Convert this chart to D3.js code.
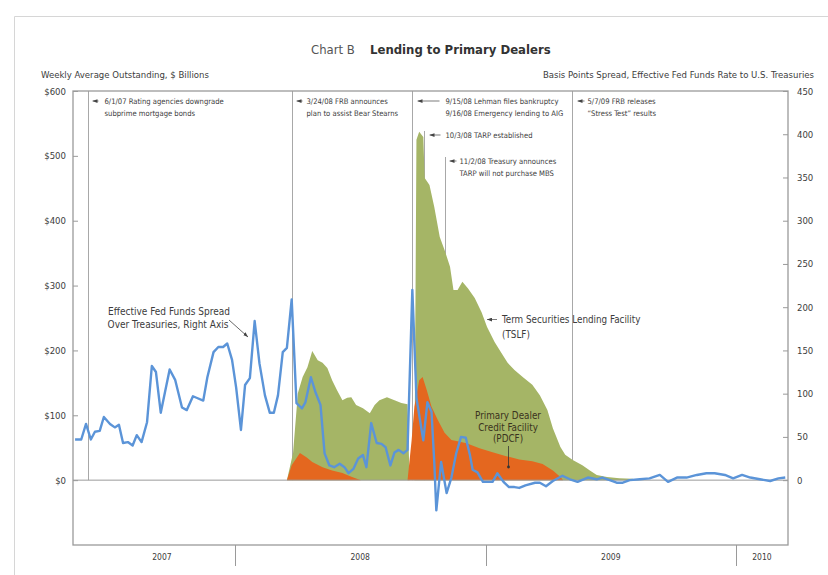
<!DOCTYPE html>
<html>
<head>
<meta charset="utf-8">
<script src="https://cdn.jsdelivr.net/npm/d3@7"></script>
<style>
  body { margin: 0; background: #fff; }
  svg { font-family: "Liberation Sans Narrow", "Arial Narrow", "DejaVu Sans Condensed", sans-serif; }
</style>
</head>
<body>
<div id="chart"></div>
<script>
// values
var spreadData = [
  ["2007-05-13",47],["2007-05-22",47],["2007-05-29",65],["2007-06-05",47],["2007-06-11",56],["2007-06-18",57],
  ["2007-06-24",73],["2007-07-03",65],["2007-07-10",61],["2007-07-16",64],["2007-07-22",43],["2007-07-29",44],
  ["2007-08-05",40],["2007-08-11",52],["2007-08-18",44],["2007-08-26",67],["2007-09-02",132],["2007-09-08",125],
  ["2007-09-15",78],["2007-09-21",101],["2007-09-28",128],["2007-10-06",116],["2007-10-16",84],["2007-10-23",81],
  ["2007-11-01",97],["2007-11-07",95],["2007-11-16",92],["2007-11-22",119],["2007-12-01",148],["2007-12-08",154],
  ["2007-12-15",154],["2007-12-21",158],["2007-12-28",139],["2008-01-03",107],["2008-01-10",58],["2008-01-16",110],
  ["2008-01-23",118],["2008-01-30",184],["2008-02-06",135],["2008-02-14",98],["2008-02-21",78],["2008-02-27",78],
  ["2008-03-04",98],["2008-03-11",148],["2008-03-17",153],["2008-03-24",209],["2008-03-31",89],["2008-04-08",83],
  ["2008-04-13",90],["2008-04-21",119],["2008-04-28",101],["2008-05-05",87],["2008-05-11",31],["2008-05-18",17],
  ["2008-05-25",15],["2008-06-02",19],["2008-06-09",15],["2008-06-15",8],["2008-06-22",13],["2008-06-29",25],
  ["2008-07-06",29],["2008-07-11",15],["2008-07-18",66],["2008-07-26",43],["2008-08-02",42],["2008-08-08",38],
  ["2008-08-15",17],["2008-08-21",32],["2008-08-27",35],["2008-09-03",31],["2008-09-09",35],["2008-09-16",220],
  ["2008-09-22",95],["2008-10-02",46],["2008-10-08",90],["2008-10-14",79],["2008-10-18",21],["2008-10-21",-35],
  ["2008-10-28",21],["2008-11-05",-15],["2008-11-12",3],["2008-11-19",31],["2008-11-26",50],["2008-12-03",49],
  ["2008-12-09",29],["2008-12-13",12],["2008-12-20",9],["2008-12-28",-2],["2009-01-03",-2],["2009-01-11",-2],
  ["2009-01-18",8],["2009-01-27",-2],["2009-02-04",-8],["2009-02-12",-8],["2009-02-19",-9],["2009-02-28",-6],
  ["2009-03-14",-3],["2009-03-21",-3],["2009-03-30",-7],["2009-04-09",-1],["2009-04-23",5],["2009-05-04",1],
  ["2009-05-15",-2],["2009-05-30",3],["2009-06-12",1],["2009-06-20",3],["2009-07-01",0],["2009-07-11",-3],
  ["2009-07-20",-3],["2009-07-30",0],["2009-08-14",1],["2009-08-28",2],["2009-09-12",6],["2009-09-24",-2],
  ["2009-10-07",3],["2009-10-21",3],["2009-11-05",6],["2009-11-19",8],["2009-12-01",8],["2009-12-16",6],
  ["2009-12-28",2],["2010-01-10",6],["2010-01-22",3],["2010-02-05",1],["2010-02-20",-1],["2010-03-04",2],
  ["2010-03-14",3]
];

var tslfData = [
  ["2008-03-17",0],["2008-03-26",42],["2008-04-02",134],["2008-04-09",159],["2008-04-16",174],["2008-04-23",199],
  ["2008-05-01",185],["2008-05-08",181],["2008-05-15",173],["2008-05-22",154],["2008-05-29",139],["2008-06-06",123],
  ["2008-06-13",127],["2008-06-19",128],["2008-06-26",116],["2008-07-06",111],["2008-07-16",103],["2008-07-23",116],
  ["2008-07-30",123],["2008-08-10",128],["2008-08-21",123],["2008-08-31",119],["2008-09-09",117],["2008-09-12",0],
  ["2008-09-19",0],["2008-09-22",525],["2008-09-26",537],["2008-10-02",529],["2008-10-04",466],["2008-10-11",455],
  ["2008-10-18",421],["2008-10-26",375],["2008-11-02",355],["2008-11-10",329],["2008-11-15",293],["2008-11-21",293],
  ["2008-11-28",306],["2008-12-06",296],["2008-12-16",281],["2008-12-26",259],["2009-01-03",236],["2009-01-14",213],
  ["2009-01-24",196],["2009-02-02",181],["2009-02-12",170],["2009-02-24",159],["2009-03-10",147],["2009-03-21",131],
  ["2009-04-01",108],["2009-04-09",80],["2009-04-20",51],["2009-04-27",39],["2009-05-08",31],["2009-05-22",23],
  ["2009-06-02",15],["2009-06-12",8],["2009-06-27",5],["2009-07-15",3],["2009-08-03",2],["2009-08-13",0]
];

var pdcfData = [
  ["2008-03-17",0],["2008-03-24",23],["2008-04-05",42],["2008-04-15",35],["2008-04-23",28],["2008-05-08",20],
  ["2008-05-22",15],["2008-06-06",11],["2008-06-20",5],["2008-07-03",0],["2008-09-09",0],["2008-09-15",62],
  ["2008-09-19",113],["2008-09-26",154],["2008-10-01",159],["2008-10-07",139],["2008-10-14",113],["2008-10-23",93],
  ["2008-11-02",73],["2008-11-12",62],["2008-11-21",60],["2008-12-04",57],["2008-12-23",49],["2009-01-11",43],
  ["2009-01-31",37],["2009-02-19",32],["2009-03-10",29],["2009-03-25",25],["2009-04-09",15],["2009-04-20",5],
  ["2009-04-24",0]
];

var events = [
  {date: "2007-06-01", text: ["6/1/07 Rating agencies downgrade", "subprime mortgage bonds"]},
  {date: "2008-03-24", text: ["3/24/08 FRB announces", "plan to assist Bear Stearns"]},
  {date: "2008-09-15", text: ["9/15/08 Lehman files bankruptcy", "9/16/08 Emergency lending to AIG"]},
  {date: "2008-10-03", text: ["10/3/08 TARP established"]},
  {date: "2008-11-02", text: ["11/2/08 Treasury announces", "TARP will not purchase MBS"]},
  {date: "2009-05-07", text: ["5/7/09 FRB releases", "\u201cStress Test\u201d results"]}
];

var leftTicks = [0, 100, 200, 300, 400, 500, 600];
var rightTicks = [0, 50, 100, 150, 200, 250, 300, 350, 400, 450];
var yearBreaks = ["2008-01-01", "2009-01-01", "2010-01-01"];
var yearLabels = ["2007", "2008", "2009", "2010"];

var svgWidth = 828;
var svgHeight = 575;

var margin = {
  top: 91,
  right: 40,
  bottom: 30,
  left: 73
};

var width = svgWidth - margin.left - margin.right;
var height = svgHeight - margin.top - margin.bottom;

var textColor = "#3c3c3c";
var ruleColor = "#9a9a9a";

var parseDate = d3.timeParse("%Y-%m-%d");
var toPoints = arr => arr.map(d => ({date: parseDate(d[0]), value: d[1]}));

var spread = toPoints(spreadData);
var tslf = toPoints(tslfData);
var pdcf = toPoints(pdcfData);

var svg = d3.select("#chart")
  .append("svg")
  .attr("width", svgWidth)
  .attr("height", svgHeight);

// light page frame
svg.append("path")
  .attr("d", "M14.5,575 V16.5 H828")
  .attr("fill", "none")
  .attr("stroke", "#d6d6d6");

// titles
svg.append("text")
  .attr("x", 311).attr("y", 54)
  .attr("font-size", 13)
  .attr("fill", "#555")
  .text("Chart B");
svg.append("text")
  .attr("x", 370).attr("y", 54)
  .attr("font-size", 13)
  .attr("font-weight", "bold")
  .attr("fill", "#333")
  .text("Lending to Primary Dealers");
svg.append("text")
  .attr("x", 41).attr("y", 78)
  .attr("font-size", 9.5)
  .attr("fill", textColor)
  .text("Weekly Average Outstanding, $ Billions");
svg.append("text")
  .attr("x", 814).attr("y", 78)
  .attr("text-anchor", "end")
  .attr("font-size", 9.5)
  .attr("fill", textColor)
  .text("Basis Points Spread, Effective Fed Funds Rate to U.S. Treasuries");

var defs = svg.append("defs");
defs.append("marker")
  .attr("id", "arrow")
  .attr("viewBox", "0 0 8 6")
  .attr("refX", 8).attr("refY", 3)
  .attr("markerWidth", 5).attr("markerHeight", 4)
  .attr("markerUnits", "userSpaceOnUse")
  .attr("orient", "auto-start-reverse")
  .append("path")
  .attr("d", "M0,0 L8,3 L0,6 z")
  .attr("fill", "#444");

var chartGroup = svg.append("g")
  .attr("transform", `translate(${margin.left}, ${margin.top})`);

var x = d3.scaleTime()
  .domain([parseDate("2007-05-10"), parseDate("2010-03-18")])
  .range([0, width]);

var yLeft = d3.scaleLinear()
  .domain([-100, 600])
  .range([height, 0]);

var yRight = d3.scaleLinear()
  .domain([-75, 450])
  .range([height, 0]);

// event rules and notes (layout per note: line top, text row, arrow start/end, text offset)
var eventLayout = [
  {top: 0, y: 10, a0: 4, a1: 10, tx: 16},
  {top: 0, y: 10, a0: 4, a1: 10, tx: 14},
  {top: 0, y: 10, a0: 5, a1: 27, tx: 33},
  {top: 40, y: 44, a0: 5, a1: 16, tx: 21},
  {top: 66, y: 70, a0: 4, a1: 11, tx: 14},
  {top: 0, y: 10, a0: 5, a1: 12, tx: 15}
];

var eventGroup = chartGroup.append("g")
  .selectAll("g")
  .data(events)
  .enter()
  .append("g")
  .attr("transform", d => `translate(${Math.round(x(parseDate(d.date))) + 0.5}, 0)`);

eventGroup.append("line")
  .attr("y1", (d, i) => eventLayout[i].top)
  .attr("y2", yLeft(0))
  .attr("stroke", "#a8a8a8")
  .attr("stroke-width", 1);

eventGroup.append("line")
  .attr("x1", (d, i) => eventLayout[i].a0)
  .attr("x2", (d, i) => eventLayout[i].a1)
  .attr("y1", (d, i) => eventLayout[i].y)
  .attr("y2", (d, i) => eventLayout[i].y)
  .attr("stroke", "#444")
  .attr("stroke-width", 0.7)
  .attr("marker-start", "url(#arrow)");

eventGroup.each(function(d, i) {
  var t = d3.select(this).append("text")
    .attr("font-size", 7.6)
    .attr("fill", textColor);
  d.text.forEach(function(line, j) {
    t.append("tspan")
      .attr("x", eventLayout[i].tx)
      .attr("y", eventLayout[i].y + 3 + j * 12)
      .text(line);
  });
});

// areas
var area = d3.area()
  .x(d => x(d.date))
  .y0(yLeft(0))
  .y1(d => yLeft(d.value));

chartGroup.append("path")
  .datum(tslf)
  .attr("d", area)
  .attr("fill", "#a5b566");

chartGroup.append("path")
  .datum(pdcf)
  .attr("d", area)
  .attr("fill", "#e4671f");

// zero line
chartGroup.append("line")
  .attr("x1", 0).attr("x2", width)
  .attr("y1", yLeft(0)).attr("y2", yLeft(0))
  .attr("stroke", ruleColor)
  .attr("stroke-width", 1);

// fed funds spread line
var line = d3.line()
  .x(d => x(d.date))
  .y(d => yRight(d.value));

chartGroup.append("path")
  .datum(spread)
  .attr("d", line)
  .attr("fill", "none")
  .attr("stroke", "#5b94d8")
  .attr("stroke-width", 2.4)
  .attr("stroke-linejoin", "round");

// plot box
chartGroup.append("rect")
  .attr("width", width)
  .attr("height", height)
  .attr("fill", "none")
  .attr("stroke", ruleColor)
  .attr("stroke-width", 1.3);

// axes
var leftAxis = d3.axisLeft(yLeft)
  .tickValues(leftTicks)
  .tickSizeInner(-5)
  .tickSizeOuter(0)
  .tickPadding(7)
  .tickFormat(d => "$" + d);

var rightAxis = d3.axisRight(yRight)
  .tickValues(rightTicks)
  .tickSizeInner(-5)
  .tickSizeOuter(0)
  .tickPadding(9);

var yAxisLeft = chartGroup.append("g").call(leftAxis);
var yAxisRight = chartGroup.append("g")
  .attr("transform", `translate(${width}, 0)`)
  .call(rightAxis);

[yAxisLeft, yAxisRight].forEach(function(ax) {
  ax.select(".domain").remove();
  ax.selectAll("line").attr("stroke", ruleColor);
  ax.selectAll("text")
    .attr("font-size", 9.5)
    .attr("fill", textColor);
  ax.attr("font-family", null);
});

// year band below the plot
var bounds = [x.domain()[0]].concat(yearBreaks.map(parseDate), [x.domain()[1]]);

chartGroup.append("g")
  .selectAll("line")
  .data(yearBreaks)
  .enter()
  .append("line")
  .attr("x1", d => Math.round(x(parseDate(d))) + 0.5)
  .attr("x2", d => Math.round(x(parseDate(d))) + 0.5)
  .attr("y1", height)
  .attr("y2", height + 21)
  .attr("stroke", ruleColor);

chartGroup.append("g")
  .selectAll("text")
  .data(yearLabels)
  .enter()
  .append("text")
  .attr("x", (d, i) => (x(bounds[i]) + x(bounds[i + 1])) / 2 + (i === 0 ? 8 : 0))
  .attr("y", height + 15)
  .attr("text-anchor", "middle")
  .attr("font-size", 8.5)
  .attr("fill", textColor)
  .text(d => d);

// series labels
var fedLabel = svg.append("text")
  .attr("font-size", 10)
  .attr("text-anchor", "middle")
  .attr("fill", textColor);
fedLabel.append("tspan").attr("x", 169).attr("y", 315).text("Effective Fed Funds Spread");
fedLabel.append("tspan").attr("x", 168).attr("y", 327.5).text("Over Treasuries, Right Axis");

svg.append("line")
  .attr("x1", 229).attr("y1", 320)
  .attr("x2", 248).attr("y2", 337)
  .attr("stroke", "#444")
  .attr("stroke-width", 0.8)
  .attr("marker-end", "url(#arrow)");

var tslfLabel = svg.append("text")
  .attr("font-size", 9.8)
  .attr("fill", textColor);
tslfLabel.append("tspan").attr("x", 502).attr("y", 323).text("Term Securities Lending Facility");
tslfLabel.append("tspan").attr("x", 502).attr("y", 338).text("(TSLF)");

svg.append("line")
  .attr("x1", 487).attr("y1", 319.5)
  .attr("x2", 497).attr("y2", 319.5)
  .attr("stroke", "#444")
  .attr("stroke-width", 0.7)
  .attr("marker-start", "url(#arrow)");

var pdcfLabel = svg.append("text")
  .attr("font-size", 9.8)
  .attr("text-anchor", "middle")
  .attr("fill", "#3a3320");
pdcfLabel.append("tspan").attr("x", 508).attr("y", 418.5).text("Primary Dealer");
pdcfLabel.append("tspan").attr("x", 508).attr("y", 430.5).text("Credit Facility");
pdcfLabel.append("tspan").attr("x", 508).attr("y", 442).text("(PDCF)");

svg.append("line")
  .attr("x1", 508.5).attr("y1", 446)
  .attr("x2", 508.5).attr("y2", 467)
  .attr("stroke", "#333")
  .attr("stroke-width", 0.8);
svg.append("circle")
  .attr("cx", 508.5).attr("cy", 467)
  .attr("r", 1.4)
  .attr("fill", "#333");
</script>
</body>
</html>
